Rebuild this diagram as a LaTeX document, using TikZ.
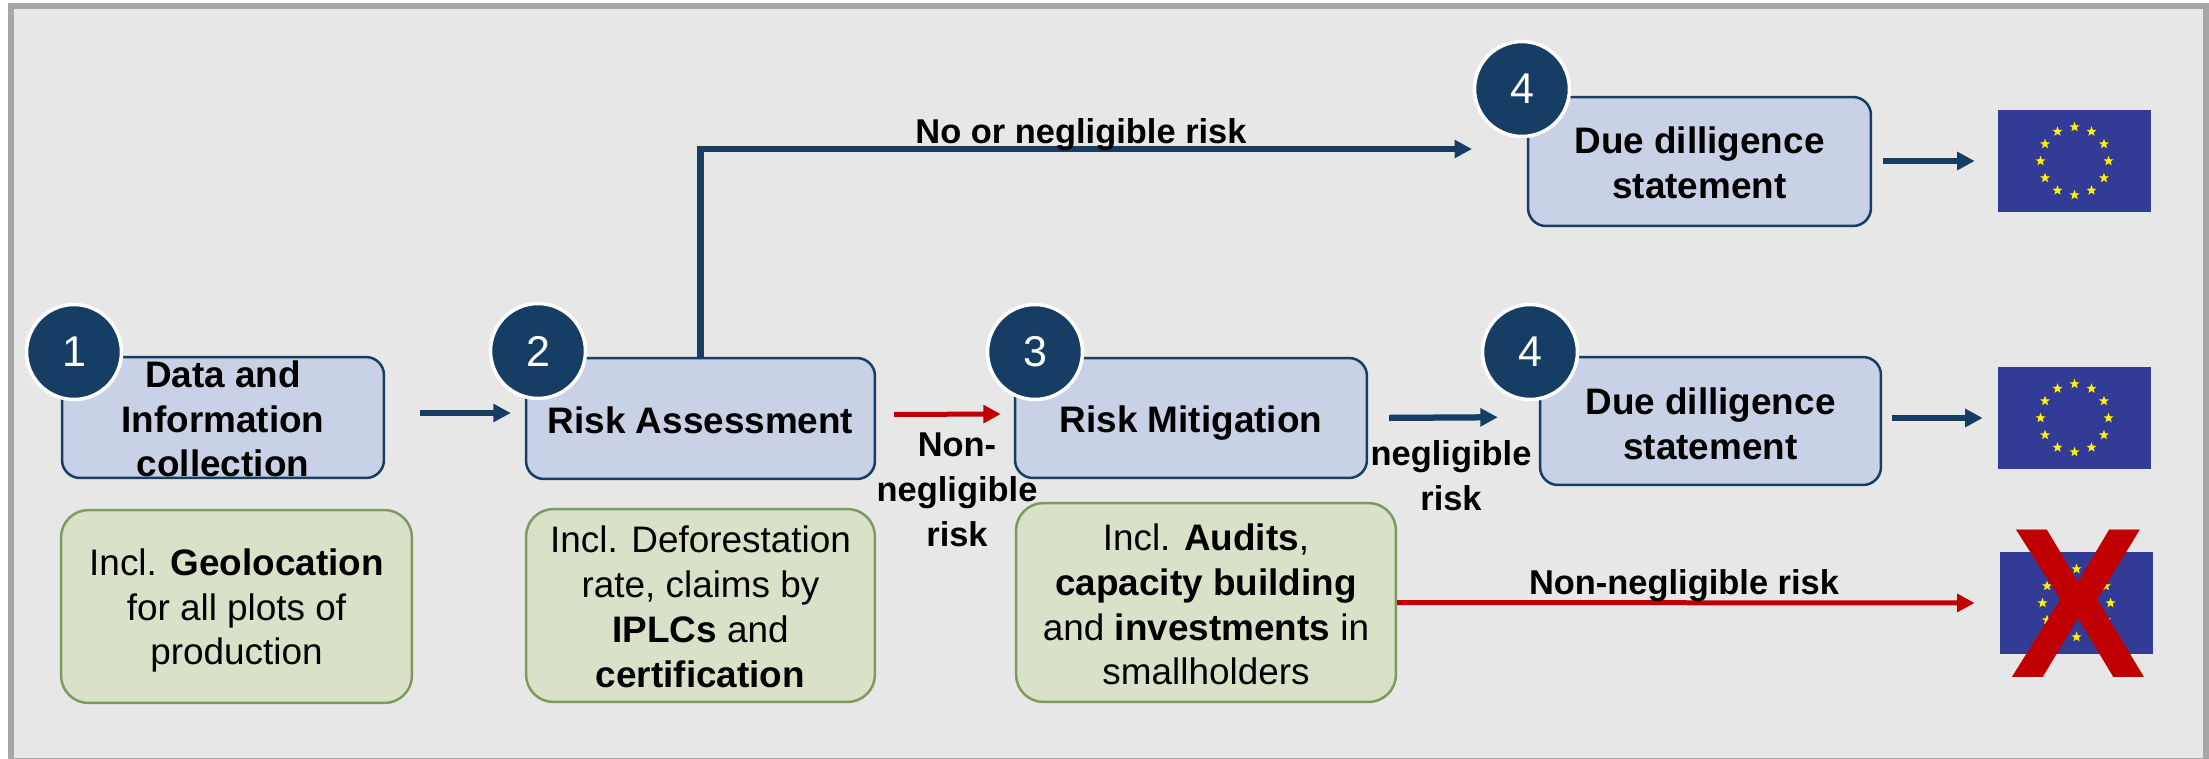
\documentclass[tikz,border=0pt]{standalone}
\usepackage{fontspec}
\setmainfont{Liberation Sans}
\usetikzlibrary{arrows.meta,shapes.geometric}

\definecolor{navy}{HTML}{163E64}
\definecolor{boxblue}{HTML}{C8D1E5}
\definecolor{boxgreen}{HTML}{D9E2C9}
\definecolor{edgegreen}{HTML}{7E9A5C}
\definecolor{eublue}{HTML}{323B96}
\definecolor{darkred}{HTML}{C00000}

\newcommand{\dropline}[1]{\rule{0pt}{#1pt}}

\tikzset{
  stepbox/.style={draw=navy, fill=boxblue, line width=0.05cm, rounded corners=0.36cm, inner sep=0,
    align=center, font=\fontsize{21}{25.5}\selectfont\bfseries},
  notebox/.style={draw=edgegreen, fill=boxgreen, line width=0.05cm, rounded corners=0.55cm, inner sep=0,
    align=center, font=\fontsize{21}{25.5}\selectfont},
  badge/.style={circle, draw=white, fill=navy, line width=0.07cm, minimum size=1.9cm, inner sep=0,
    text=white, font=\fontsize{24.5}{28}\selectfont},
  risklabel/.style={inner sep=0, align=center, font=\fontsize{19.6}{25.5}\selectfont\bfseries},
  flowarrow/.style={draw=navy, line width=0.125cm, -{Triangle[length=0.35cm,width=0.35cm]}},
  redarrow/.style={flowarrow, draw=darkred, line width=0.10cm},
  flagbox/.style={fill=eublue, minimum width=3.06cm, minimum height=2.04cm, inner sep=0},
  eustar/.style={star, star points=5, star point ratio=2.4, fill=yellow, minimum size=0.21cm, inner sep=0}
}

\begin{document}
\begin{tikzpicture}[x=0.02cm,y=-0.02cm]
  \useasboundingbox (0,0) rectangle (2209,758);
  % the frame
  \fill[white] (0,0) rectangle (2209,758);
  \draw[draw=black!35, fill=black!9.5, line width=0.12cm] (11,6) rectangle (2206,761);

  % the step boxes
  \node[stepbox, minimum width=6.44cm, minimum height=2.42cm] (data) at (223,417.5) {\dropline{16.9}Data and\\Information\\collection};
  \node[stepbox, minimum width=6.98cm, minimum height=2.42cm] (assess) at (700.5,418.5) {\dropline{16.9}Risk Assessment};
  \node[stepbox, minimum width=7.04cm, minimum height=2.40cm, text depth=0pt] (mitigate) at (1191,418) {\dropline{16.9}Risk Mitigation};
  \node[stepbox, minimum width=6.82cm, minimum height=2.56cm] (duelow) at (1710.5,421) {\dropline{18.5}Due dilligence\\statement};
  \node[stepbox, minimum width=6.86cm, minimum height=2.58cm] (duetop) at (1699.5,161.5) {\dropline{16.4}Due dilligence\\statement};

  % the notes below them
  \node[notebox, minimum width=7.02cm, minimum height=3.86cm] (notedata) at (236.5,606.5)
    {\dropline{19.8}Incl. \textbf{Geolocation}\\for all plots of\\production};
  \node[notebox, minimum width=6.98cm, minimum height=3.86cm] (noteassess) at (700.5,605.5)
    {\dropline{16.9}Incl. Deforestation\\rate, claims by\\\textbf{IPLCs} and\\\textbf{certification}};
  \node[notebox, minimum width=7.60cm, minimum height=3.98cm] (notemitigate) at (1206,602.5)
    {\dropline{17.6}Incl. \textbf{Audits},\\\textbf{capacity building}\\and \textbf{investments} in\\smallholders};

  % the numbers
  \node[badge] (one) at (74,352) {1};
  \node[badge] (two) at (538,351) {2};
  \node[badge] (three) at (1035,352) {3};
  \node[badge] (fourlow) at (1530,352) {4};
  \node[badge] (fourtop) at (1522,89) {4};

  % the flags
  \foreach \name/\pos in {flagtop/{2074.5,161},flagmid/{2074.5,418},flagend/{2076.5,603}} {
    \node[flagbox] (\name) at (\pos) {};
    \foreach \a in {0,30,...,330} \node[eustar] (\name-\a) at ([shift={(\a:34)}]\name.center) {};
  }
  \node[inner sep=0, text=darkred, font=\fontsize{122}{122}\selectfont\bfseries] (cross) at (2078,604) {\scalebox{.95}[1]{X}};

  % the arrows
  \coordinate (topend) at (1472,149);
  \draw[flowarrow, shorten <=0.70cm, shorten >=0.28cm] ([yshift=0.09cm]data.east) -- ([yshift=0.11cm]assess.west);
  \draw[redarrow, shorten <=0.36cm, shorten >=0.26cm] ([yshift=0.08cm]assess.east) -- ([yshift=0.08cm]mitigate.west);
  \draw[flowarrow, shorten <=0.42cm, shorten >=0.82cm] (mitigate.east) -- ([yshift=0.08cm]duelow.west);
  \draw[flowarrow, shorten <=0.20cm, shorten >=0.30cm] (duelow.east |- flagmid.west) -- (flagmid.west);
  \draw[flowarrow, shorten <=0.22cm, shorten >=0.46cm] (duetop.east |- flagtop.west) -- (flagtop.west);
  \draw[flowarrow] (assess.north) |- (topend);
  \draw[redarrow, shorten >=0.50cm] (notemitigate.east) -- (flagend.west);

  % the labels on the arrows
  \node[risklabel] (lblno) at (1081,135) {No or negligible risk};
  \node[risklabel] (lblnon) at (957,490) {Non-\\negligible\\risk};
  \node[risklabel] (lblneg) at (1451,476) {negligible\\risk};
  \node[risklabel] (lblend) at (1684,586) {Non-negligible risk};
\end{tikzpicture}
\end{document}
